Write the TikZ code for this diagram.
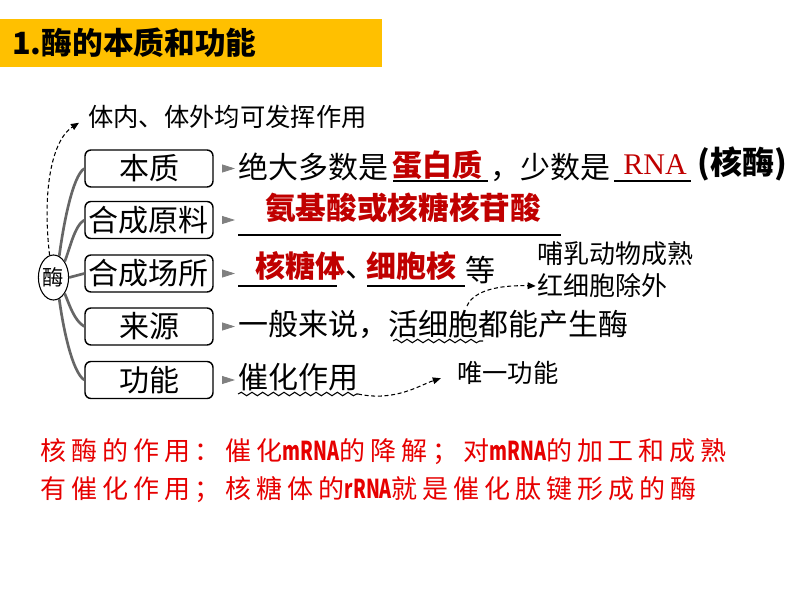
\documentclass[tikz,border=0pt]{standalone}
\usepackage{graphicx}
\usepackage{fontspec}
\setmainfont{Noto Sans CJK SC}
\newfontfamily\romanfont{Liberation Serif}
\newfontfamily\spacedfont{Noto Sans CJK SC}[LetterSpace=19]
\newcommand{\latinrun}[1]{\scalebox{0.7}[1]{\normalfont\bfseries #1}}
\usetikzlibrary{shapes.geometric,arrows.meta,decorations.pathmorphing,calc}
\definecolor{barYellow}{RGB}{255,192,0}
\definecolor{ansRed}{RGB}{192,0,0}
\definecolor{noteRed}{RGB}{230,0,0}
\tikzset{
>=Stealth,
headline/.style={anchor=west, inner sep=0pt, font=\fontsize{23pt}{26pt}\selectfont\bfseries},
rootnode/.style={ellipse, draw=black, line width=0.8pt, minimum width=18.75pt, minimum height=33.75pt, inner sep=0pt, font=\fontsize{16pt}{18pt}\selectfont},
partbox/.style={rectangle, rounded corners=4.5pt, draw=black, line width=1.1pt, minimum width=96pt, minimum height=27.75pt, inner sep=0pt, font=\fontsize{22.5pt}{25pt}\selectfont},
branch/.style={draw, line width=2pt, gray!80!black},
feed/.style={draw, gray, line width=0.6pt, -{Triangle[length=9.75pt, width=6pt]}, shorten <=6.75pt, shorten >=2.25pt},
plain/.style={anchor=west, inner sep=0pt, font=\fontsize{22.5pt}{25pt}\selectfont},
answer/.style={anchor=west, inner sep=0pt, text=ansRed, font=\fontsize{22.5pt}{25pt}\selectfont\bfseries},
rna/.style={inner sep=0pt, text=ansRed, font=\romanfont\fontsize{22.5pt}{25pt}\selectfont},
hand/.style={anchor=west, inner sep=0pt, font=\fontsize{19pt}{22pt}\selectfont},
blank/.style={draw, line width=1pt},
wavy/.style={draw, line width=0.8pt, decorate, decoration={snake, amplitude=1.3pt, segment length=8pt}},
hint/.style={draw, densely dashed, line width=0.8pt, -{Triangle[length=6pt, width=5pt]}},
redline/.style={anchor=west, inner sep=0pt, text=noteRed, font=\spacedfont\fontsize{19.5pt}{22pt}\selectfont},
}

\begin{document}
\begin{tikzpicture}[x=0.75pt, y=-0.75pt]
\useasboundingbox (0,0) rectangle (794,596);

% title bar
\fill[barYellow] (0,19) rectangle (382,67);
\node[headline] (head) at (12,43) {1.酶的本质和功能};

% root and parts
\node[rootnode] (mei) at (53.5,277.5) {酶};
\node[partbox] (benzhi) at (149,168.5) {本质};
\node[partbox] (yuanliao) at (149,220) {合成原料};
\node[partbox] (changsuo) at (149,273.5) {合成场所};
\node[partbox] (laiyuan) at (149,326.5) {来源};
\node[partbox] (gongneng) at (149,380) {功能};

\draw[branch] (mei.75) .. controls +(4,-30) and +(-12,8) .. (benzhi.west);
\draw[branch] (mei.55) .. controls +(5,-12) and +(-10,6) .. (yuanliao.west);
\draw[branch] (mei.east) -- (changsuo.west);
\draw[branch] (mei.-55) .. controls +(5,12) and +(-10,-6) .. (laiyuan.west);
\draw[branch] (mei.-75) .. controls +(4,30) and +(-12,-8) .. (gongneng.west);

% note above
\node[hand] (note1) at (88,117) {体内、体外均可发挥作用};
\draw[hint, shorten >=8pt] (mei.100) .. controls (42,190) and (52,140) .. (note1.west);

% row 1
\node[plain] (r1a) at (238,167) {绝大多数是};
\node[answer] (r1b) at (392,165) {蛋白质};
\node[plain] (r1c) at (490,167) {，少数是};
\node[rna] (r1d) at (655,165) {RNA};
\node[plain, font=\fontsize{24pt}{26pt}\selectfont\bfseries] (r1e) at (697,164) {(核酶)};
\draw[blank] (393,181) -- (488,181);
\draw[blank] (614,181) -- (691,181);
\draw[feed] (benzhi.east) -- (benzhi.east -| r1a.west);

% row 2
\coordinate (r2s) at (238,235);
\node[answer, font=\fontsize{23pt}{26pt}\selectfont\bfseries] (r2a) at (265,208) {氨基酸或核糖核苷酸};
\draw[blank] (r2s) -- (561,235);
\draw[feed] (yuanliao.east) -- (yuanliao.east -| r2s);

% row 3
\coordinate (r3s) at (238,286);
\node[answer] (r3a) at (255,266) {核糖体{\color{black}\mdseries\makebox[0.3em][l]{、}}};
\node[answer] (r3c) at (366,266) {细胞核};
\node[plain] (r3d) at (465,270) {等};
\draw[blank] (r3s) -- (337,286);
\draw[blank] (367,286) -- (465,286);
\draw[feed] (changsuo.east) -- (changsuo.east -| r3s);
\node[hand, font=\fontsize{19.5pt}{22pt}\selectfont] (note2a) at (537,254) {哺乳动物成熟};
\node[hand, font=\fontsize{19.5pt}{22pt}\selectfont] (note2b) at (537,286) {红细胞除外};

% row 4
\node[plain] (r4a) at (238,324) {一般来说，活细胞都能产生酶};
\draw[wavy] (393,341) -- (483,341);
\draw[feed] (laiyuan.east) -- (laiyuan.east -| r4a.west);
\coordinate (c4) at (467,306);
\draw[hint, shorten >=1pt] (c4) .. controls (474,290) and (500,285) .. (note2b.west);

% row 5
\node[plain] (r5a) at (238,377) {催化作用};
\coordinate (c5) at (358,394);
\draw[wavy] (238,394) -- (c5);
\draw[feed] (gongneng.east) -- (gongneng.east -| r5a.west);
\node[hand] (note3) at (457,373) {唯一功能};
\draw[hint, shorten >=12.75pt] (c5) .. controls (395,402) and (420,385) .. (note3.west);

% ribozyme remark
\node[redline] (rz1) at (40,452) {核酶的作用：催化\latinrun{mRNA}的降解；对\latinrun{mRNA}的加工和成熟};
\node[redline] (rz2) at (40,490) {有催化作用；核糖体的\latinrun{rRNA}就是催化肽键形成的酶};

\end{tikzpicture}
\end{document}
